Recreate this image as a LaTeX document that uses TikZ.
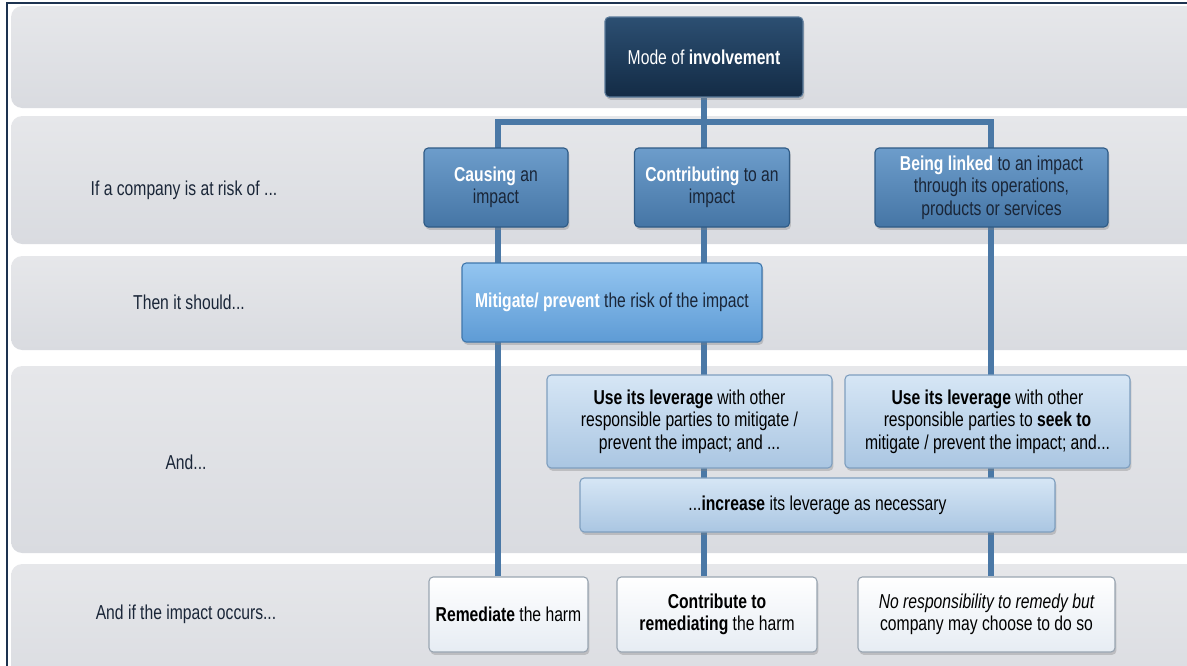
\documentclass[tikz,border=0pt]{standalone}
\usepackage{fontspec}
\setmainfont{Liberation Sans}[FakeStretch=0.78]
\usetikzlibrary{shadows}
\definecolor{framenavy}{HTML}{1D3350}
\definecolor{bandtop}{HTML}{E6E7EA}
\definecolor{bandbot}{HTML}{D9DBE0}
\definecolor{linkblue}{HTML}{4A78A6}
\definecolor{txtdark}{HTML}{1A2638}
\definecolor{modeedge}{HTML}{5A7A9A}
\definecolor{modetop}{HTML}{2C4F72}
\definecolor{modebot}{HTML}{132B45}
\definecolor{tieredge}{HTML}{2F5B86}
\definecolor{tiertop}{HTML}{6D9DCB}
\definecolor{tierbot}{HTML}{4575A5}
\definecolor{mitedge}{HTML}{3F77AD}
\definecolor{mittop}{HTML}{93C5F0}
\definecolor{mitbot}{HTML}{5E9BD5}
\definecolor{levedge}{HTML}{7F9FBF}
\definecolor{levtop}{HTML}{D6E6F5}
\definecolor{levbot}{HTML}{AAC6E2}
\definecolor{endedge}{HTML}{9AA6B2}
\definecolor{endbot}{HTML}{E6ECF3}
\newdimen\pxu \pxu=0.025cm
\tikzset{
	box/.style={rounded corners=3pt, inner sep=0pt, align=center, line width=0.8pt,
		drop shadow={opacity=0.35, shadow xshift=1pt, shadow yshift=-2pt}},
	modebox/.style={box, draw=modeedge, top color=modetop, bottom color=modebot, text=white},
	tierbox/.style={box, draw=tieredge, top color=tiertop, bottom color=tierbot, text=txtdark},
	mitbox/.style={box, draw=mitedge, top color=mittop, bottom color=mitbot, text=txtdark},
	levbox/.style={box, draw=levedge, top color=levtop, bottom color=levbot, text=black},
	endbox/.style={box, draw=endedge, top color=white, bottom color=endbot, text=black},
	rowlabel/.style={text=txtdark},
	band/.style={rounded corners=8pt, top color=bandtop, bottom color=bandbot},
	link/.style={line width=5.5\pxu, draw=linkblue}
}
\pgfdeclarelayer{bands}
\pgfdeclarelayer{background}
\pgfsetlayers{bands,background,main}
\newcommand{\hl}[1]{\textcolor{white}{\textbf{#1}}}

\begin{document}
\begin{tikzpicture}[x=0.025cm, y=-0.025cm, font=\fontsize{14.3}{16}\selectfont]
			\useasboundingbox (0,0) rectangle (1187,665);
			\node[modebox, minimum width=198\pxu, minimum height=80\pxu] (mode) at (704,57) {Mode of \textbf{involvement}};
			\node[tierbox, minimum width=144\pxu, minimum height=79\pxu] (cause) at (496,187.5) {\hl{Causing} an\\impact};
			\node[tierbox, minimum width=155\pxu, minimum height=79\pxu] (contrib) at (712,187.5) {\hl{Contributing} to an\\impact};
			\node[tierbox, minimum width=233\pxu, minimum height=79\pxu] (linked) at (991.5,187.5) {\hl{Being linked} to an impact\\through its operations,\\products or services};
			\node[mitbox, minimum width=300\pxu, minimum height=79\pxu] (mitig) at (612,302.5) {\hl{Mitigate/ prevent} the risk of the impact};
			\node[levbox, minimum width=285\pxu, minimum height=93\pxu] (lever) at (689.5,421.5) {\textbf{Use its leverage} with other\\responsible parties to mitigate /\\prevent the impact; and ...};
			\node[levbox, minimum width=285\pxu, minimum height=93\pxu] (seek) at (987.5,421.5) {\textbf{Use its leverage} with other\\responsible parties to \textbf{seek to}\\mitigate / prevent the impact; and...};
			\node[levbox, minimum width=475\pxu, minimum height=54\pxu] (incr) at (817.5,505) {...\textbf{increase} its leverage as necessary};
			\node[endbox, minimum width=159\pxu, minimum height=75\pxu] (remed) at (508.5,614.5) {\textbf{Remediate} the harm};
			\node[endbox, minimum width=200\pxu, minimum height=75\pxu] (share) at (717,614.5) {\textbf{Contribute to}\\\textbf{remediating} the harm};
			\node[endbox, minimum width=257\pxu, minimum height=75\pxu] (optional) at (986.5,614.5) {\itshape No responsibility to remedy but\\company may choose to do so};
			\node[rowlabel] (atrisk) at (184,190) {If a company is at risk of ...};
			\node[rowlabel] (should) at (189,302) {Then it should...};
			\node[rowlabel] (andthen) at (186,462) {And...};
			\node[rowlabel] (occurs) at (186,614) {And if the impact occurs...};
			\coordinate (jl) at (498,122);
			\coordinate (jr) at (991,122);
			\begin{pgfonlayer}{background}
				\draw[link] (mode.south) -- (mode.south |- share.north);
				\draw[link] (jl |- remed.north) -- (jl) -- (jr) -- (jr |- optional.north);
			\end{pgfonlayer}
			\begin{pgfonlayer}{bands}
				\foreach \t/\b in {6/108,116/244,256/350,366/553,564/700}
					\shade[band] (11,\t) rectangle (1200,\b);
				\draw[framenavy, line width=2.5\pxu] (7,700) -- (7,3) -- (1200,3);
			\end{pgfonlayer}
		\end{tikzpicture}
\end{document}
